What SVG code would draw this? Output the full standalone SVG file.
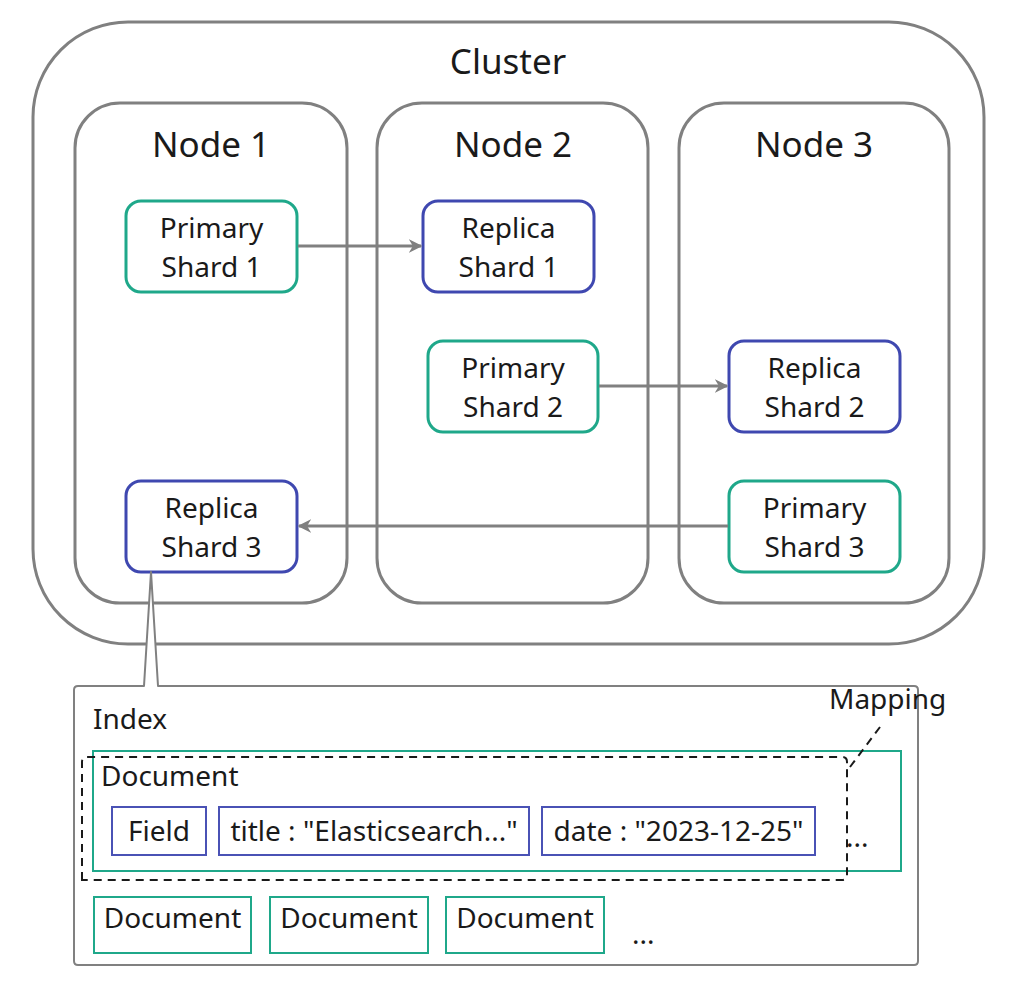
<svg xmlns="http://www.w3.org/2000/svg" width="1012" height="987" viewBox="0 0 1012 987">
<style>
text{font-family:"Noto Sans","Open Sans","DejaVu Sans",sans-serif;fill:#1a1a1a}
.big{font-size:35px;text-anchor:middle}
.sh{font-size:28px;text-anchor:middle}
.md{font-size:28px}
.cl{fill:#fff;stroke:#808080;stroke-width:3}
.pr{fill:#fff;stroke:#1fa88a;stroke-width:3}
.rp{fill:#fff;stroke:#3f48b0;stroke-width:3}
.conn{stroke:#808080;stroke-width:3;fill:none}
.doc{fill:#fff;stroke:#1fa88a;stroke-width:2}
.fld{fill:#fff;stroke:#4a52b5;stroke-width:2}
</style>
<defs>
<marker id="ah" viewBox="0 0 10 10" refX="9" refY="5" markerWidth="4.5" markerHeight="4.5" orient="auto" markerUnits="strokeWidth">
<path d="M0,0 L10,5 L0,10 L3,5 Z" fill="#808080"/>
</marker>
</defs>
<rect width="1012" height="987" fill="#fff"/>
<g id="cluster">
<rect class="cl" x="33" y="22" width="951" height="622" rx="95"/>
<text class="big" x="508" y="74">Cluster</text>
</g>
<g id="node1">
<rect class="cl" x="75" y="103" width="272" height="500" rx="45"/>
<text class="big" x="211" y="157">Node 1</text>
</g>
<g id="node2">
<rect class="cl" x="377" y="103" width="271" height="500" rx="45"/>
<text class="big" x="513" y="157">Node 2</text>
</g>
<g id="node3">
<rect class="cl" x="679" y="103" width="270" height="500" rx="45"/>
<text class="big" x="814" y="157">Node 3</text>
</g>
<g id="primary1">
<rect class="pr" x="126" y="201" width="171" height="91" rx="15"/>
<text class="sh" x="211.5" y="238">Primary</text>
<text class="sh" x="211.5" y="277">Shard 1</text>
</g>
<g id="replica1">
<rect class="rp" x="423" y="201" width="171" height="91" rx="15"/>
<text class="sh" x="508.5" y="238">Replica</text>
<text class="sh" x="508.5" y="277">Shard 1</text>
</g>
<g id="primary2">
<rect class="pr" x="428" y="341" width="170" height="91" rx="15"/>
<text class="sh" x="513" y="378">Primary</text>
<text class="sh" x="513" y="417">Shard 2</text>
</g>
<g id="replica2">
<rect class="rp" x="729" y="341" width="171" height="91" rx="15"/>
<text class="sh" x="814.5" y="378">Replica</text>
<text class="sh" x="814.5" y="417">Shard 2</text>
</g>
<g id="replica3">
<rect class="rp" x="126" y="481" width="171" height="91" rx="15"/>
<text class="sh" x="211.5" y="518">Replica</text>
<text class="sh" x="211.5" y="557">Shard 3</text>
</g>
<g id="primary3">
<rect class="pr" x="729" y="481" width="171" height="91" rx="15"/>
<text class="sh" x="814.5" y="518">Primary</text>
<text class="sh" x="814.5" y="557">Shard 3</text>
</g>
<g id="connectors">
<line class="conn" x1="298" y1="246" x2="421" y2="246" marker-end="url(#ah)"/>
<line class="conn" x1="599" y1="386" x2="727" y2="386" marker-end="url(#ah)"/>
<line class="conn" x1="728" y1="526" x2="299" y2="526" marker-end="url(#ah)"/>
</g>
<g id="index">
<path d="M144,686 L151,572 L158,686 L914,686 Q918,686 918,690 L918,961 Q918,965 914,965 L78,965 Q74,965 74,961 L74,690 Q74,686 78,686 Z" fill="#fff" stroke="#808080" stroke-width="2" stroke-linejoin="round"/>
<text class="md" x="93" y="729">Index</text>
</g>
<g id="document-main">
<rect class="doc" x="93" y="751" width="808" height="120"/>
<text class="md" x="101" y="786">Document</text>
</g>
<g id="field">
<rect class="fld" x="112" y="807" width="94" height="48"/>
<text class="md" x="159" y="841" text-anchor="middle">Field</text>
</g>
<g id="field-title">
<rect class="fld" x="219" y="807" width="310" height="48"/>
<text class="md" x="374" y="841" text-anchor="middle">title : "Elasticsearch..."</text>
</g>
<g id="field-date">
<rect class="fld" x="542" y="807" width="273" height="48"/>
<text class="md" x="678.5" y="841" text-anchor="middle">date : "2023-12-25"</text>
</g>
<text class="md" x="846" y="847">...</text>
<g id="mapping">
<path d="M82,880 L82,762 Q82,757 87,757 L842,757 Q847,757 847,762 L847,875 Q847,880 842,880 Z" fill="none" stroke="#1a1a1a" stroke-width="2" stroke-dasharray="8,6"/>
<line x1="850" y1="767" x2="880" y2="727" stroke="#1a1a1a" stroke-width="2" stroke-dasharray="8,6"/>
<text class="md" x="829" y="709">Mapping</text>
</g>
<g id="doc1">
<rect class="doc" x="94" y="897" width="157" height="56"/>
<text class="md" x="172.5" y="928" text-anchor="middle">Document</text>
</g>
<g id="doc2">
<rect class="doc" x="270" y="897" width="158" height="56"/>
<text class="md" x="349" y="928" text-anchor="middle">Document</text>
</g>
<g id="doc3">
<rect class="doc" x="446" y="897" width="158" height="56"/>
<text class="md" x="525" y="928" text-anchor="middle">Document</text>
</g>
<text class="md" x="632" y="944">...</text>
</svg>
